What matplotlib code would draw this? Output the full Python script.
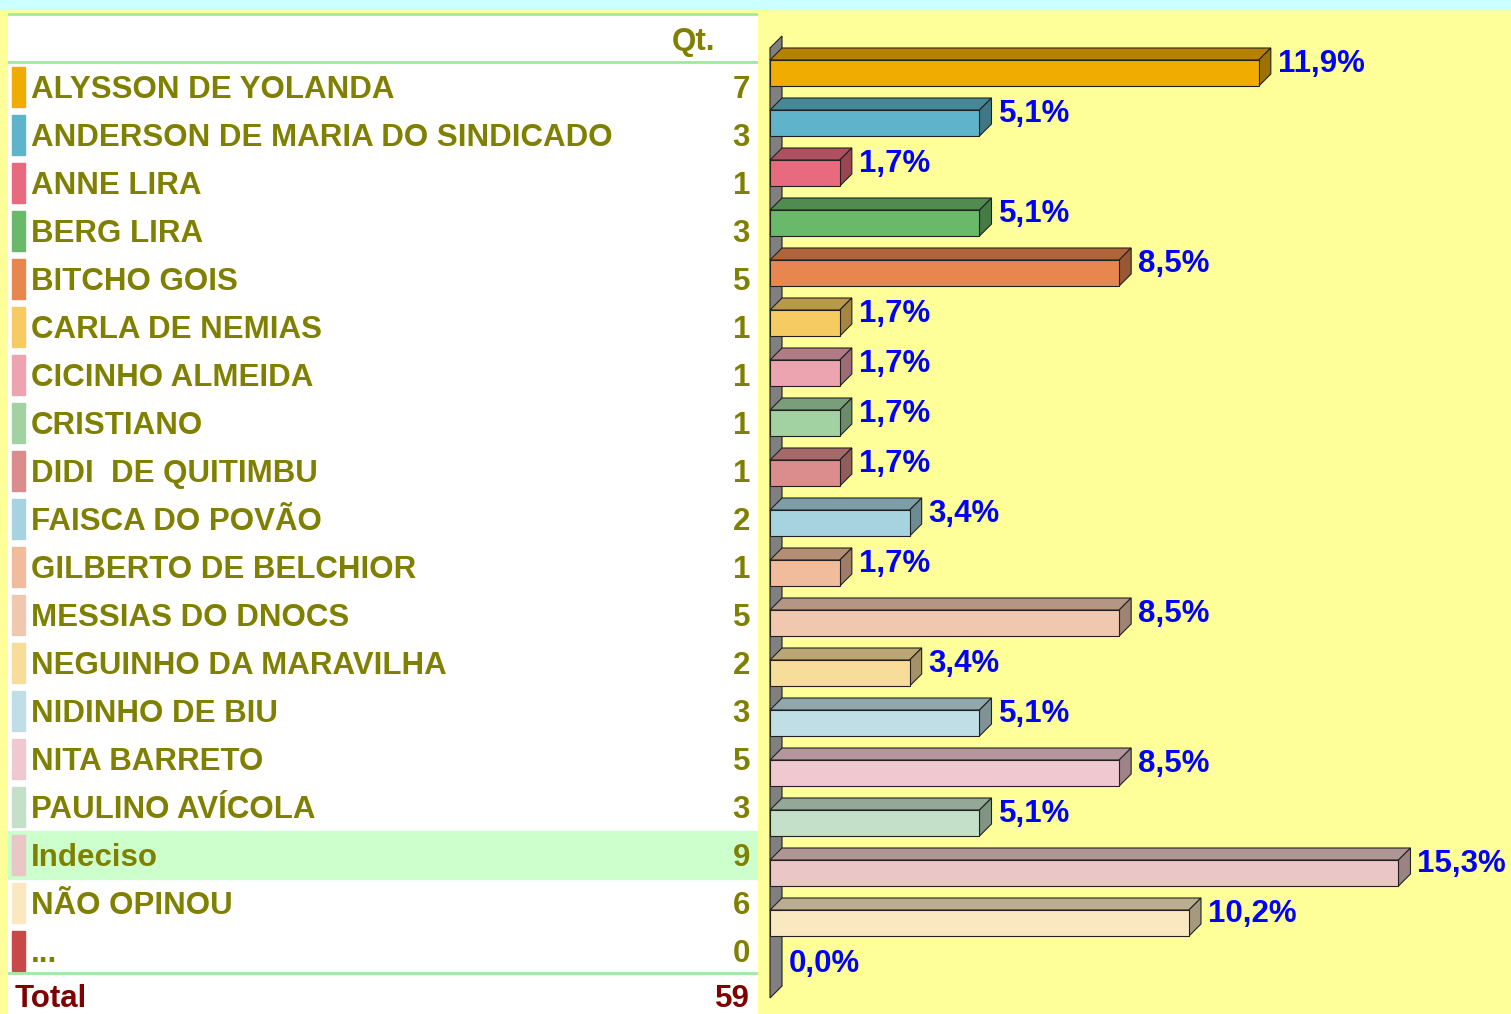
import numpy as np
import matplotlib
matplotlib.use('Agg')
import matplotlib.pyplot as plt
from matplotlib.patches import Rectangle, Polygon
from matplotlib.colors import to_rgb

plt.rcParams['font.family'] = ['Liberation Sans', 'DejaVu Sans']

#===| data |=========================================================

names = ['ALYSSON DE YOLANDA', 'ANDERSON DE MARIA DO SINDICADO', 'ANNE LIRA',
         'BERG LIRA', 'BITCHO GOIS', 'CARLA DE NEMIAS', 'CICINHO ALMEIDA',
         'CRISTIANO', 'DIDI  DE QUITIMBU', 'FAISCA DO POVÃO',
         'GILBERTO DE BELCHIOR', 'MESSIAS DO DNOCS', 'NEGUINHO DA MARAVILHA',
         'NIDINHO DE BIU', 'NITA BARRETO', 'PAULINO AVÍCOLA', 'Indeciso',
         'NÃO OPINOU', '...']
counts = [7, 3, 1, 3, 5, 1, 1, 1, 1, 2, 1, 5, 2, 3, 5, 3, 9, 6, 0]
colors = ['#F0AC00', '#5FB4CB', '#E86A7E', '#6AB96A', '#E88650', '#F5CB62',
          '#EBA4B0', '#A2D2A2', '#DB8C8C', '#A7D2DF', '#F0BC9C', '#F0C8B0',
          '#F8DC9A', '#C0DEE5', '#F0C8D0', '#C4E0C8', '#EBC6C6', '#FAE8C0',
          '#C84848']
highlight = 'Indeciso'

total = sum(counts)
pct = [100.0 * c / total for c in counts]

olive = '#808000'
W, H = 1511, 1014
fs = 22.5
# baseline offset (rows) so caps are centred on the row
base = 0.72 * fs * 100 / 72 / 2 / 48

#===| figure |=======================================================

fig = plt.figure(figsize=(W / 100, H / 100), dpi=100, facecolor='#FFFF99')
fig.patches.append(Rectangle((0, 1 - 9 / H), 1, 9 / H, transform=fig.transFigure,
                             color='#CCFFFF', zorder=0))

# -- left table
axT = fig.add_axes([8 / W, 0, 750 / W, (H - 13) / H])
axT.set_xlim(0, 750)
axT.set_ylim(19.3125, -1.5417)
axT.axis('off')
axT.add_patch(Rectangle((0, -1.5417), 750, 20.9, color='white', zorder=0))

n = len(names)
for k, (nm, c, col) in enumerate(zip(names, counts, colors)):
    if nm == highlight:
        axT.add_patch(Rectangle((0, k - 0.5), 750, 1, color='#CCFFCC', zorder=1))
    axT.add_patch(Rectangle((4, k - 0.427), 13, 0.854, color=col, zorder=2))
    axT.text(23, k + base, nm, color=olive, fontsize=fs, fontweight='bold',
             va='baseline', ha='left', zorder=3)
    axT.text(742, k + base, str(c), color=olive, fontsize=fs, fontweight='bold',
             va='baseline', ha='right', zorder=3)

axT.text(707, -1 + base, 'Qt.', color=olive, fontsize=fs, fontweight='bold',
         va='baseline', ha='right')
# total row sits a touch higher so it stays inside the picture
axT.text(7, n + base - 0.07, 'Total', color='#800000', fontsize=fs, fontweight='bold',
         va='baseline', ha='left')
axT.text(742, n + base - 0.07, str(total), color='#800000', fontsize=fs, fontweight='bold',
         va='baseline', ha='right')
for yl in (-1.52, -0.52, n - 0.54):
    axT.axhline(yl, color='#A0E8A0', lw=2, zorder=4)

# -- right 3d bars
axB = fig.add_axes([760 / W, 0, (W - 760) / W, (H - 9) / H])
axB.set_xlim(-10 / 41.2, (W - 770) / 41.2)
axB.set_ylim(18.82, -1.28)
axB.axis('off')
axB.patch.set_alpha(0)

xlo, xhi = axB.get_xlim()
ylo, yhi = axB.get_ylim()
dx = 12 * (xhi - xlo) / axB.bbox.width
dy = 12 * (ylo - yhi) / axB.bbox.height
half = 0.26


def shade(col, f):
    return tuple(v * f for v in to_rgb(col))


wall = [(0, -0.5), (dx, -0.5 - dy), (dx, n - 0.5 - dy), (0, n - 0.5)]
axB.add_patch(Polygon(wall, closed=True, fc='#808080', ec='#202020', lw=0.8, zorder=1))

for i, (p, col) in enumerate(zip(pct, colors)):
    yt, yb = i - half, i + half
    if p > 0:
        front = [(0, yt), (p, yt), (p, yb), (0, yb)]
        top = [(0, yt), (p, yt), (p + dx, yt - dy), (dx, yt - dy)]
        side = [(p, yt), (p + dx, yt - dy), (p + dx, yb - dy), (p, yb)]
        axB.add_patch(Polygon(top, closed=True, fc=shade(col, 0.75), ec='#222222', lw=0.8, zorder=2))
        axB.add_patch(Polygon(side, closed=True, fc=shade(col, 0.66), ec='#222222', lw=0.8, zorder=2))
        axB.add_patch(Polygon(front, closed=True, fc=col, ec='#222222', lw=0.8, zorder=3))
    lbl = ('%.1f%%' % p).replace('.', ',')
    axB.text(p + dx + 7 * (xhi - xlo) / axB.bbox.width, yt + 12 * (ylo - yhi) / axB.bbox.height,
             lbl, color='#0000FF', fontsize=fs, fontweight='bold',
             va='baseline', ha='left', zorder=4)

fig.savefig('out.png', dpi=100, facecolor=fig.get_facecolor())
